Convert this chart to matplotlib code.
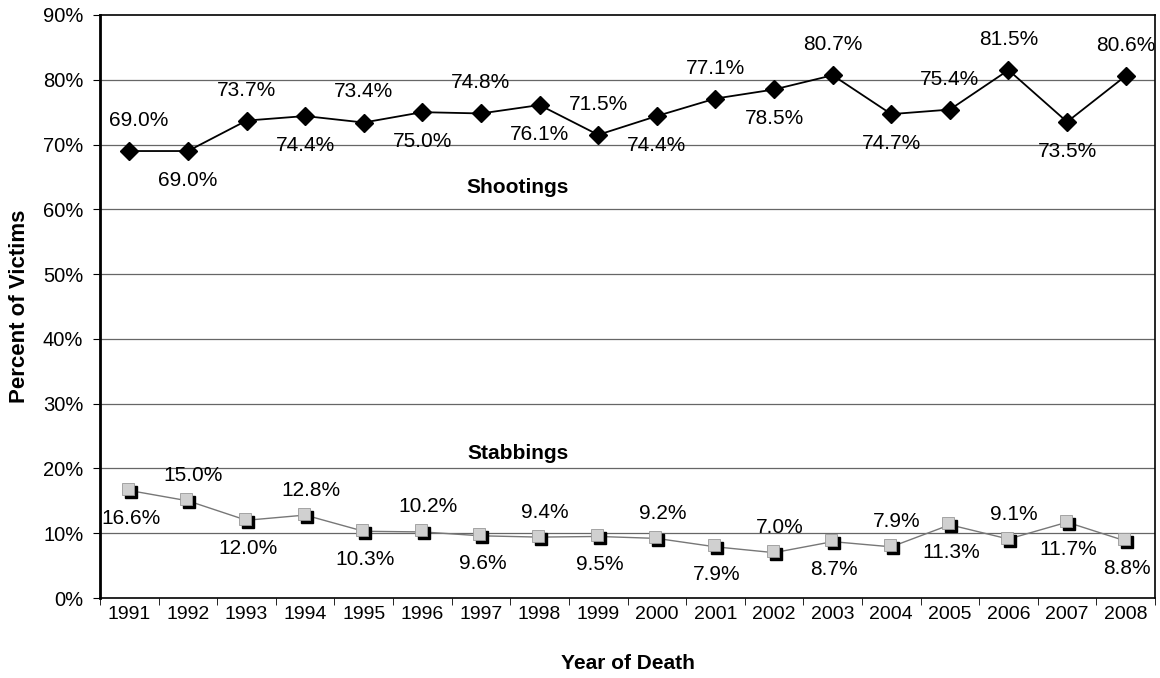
import matplotlib
matplotlib.use("Agg")
import matplotlib.pyplot as plt
import matplotlib.transforms as mtrans
import numpy as np

plt.rcParams['font.family'] = ['Liberation Sans', 'DejaVu Sans']

years = ['1991', '1992', '1993', '1994', '1995', '1996', '1997', '1998', '1999',
         '2000', '2001', '2002', '2003', '2004', '2005', '2006', '2007', '2008']
shootings = [69.0, 69.0, 73.7, 74.4, 73.4, 75.0, 74.8, 76.1, 71.5,
             74.4, 77.1, 78.5, 80.7, 74.7, 75.4, 81.5, 73.5, 80.6]
stabbings = [16.6, 15.0, 12.0, 12.8, 10.3, 10.2, 9.6, 9.4, 9.5,
             9.2, 7.9, 7.0, 8.7, 7.9, 11.3, 9.1, 11.7, 8.8]
# label placement: 1 = above the point, -1 = below
shoot_pos = [1, -1, 1, -1, 1, -1, 1, -1, 1, -1, 1, -1, 1, -1, 1, 1, -1, 1]
stab_pos = [-1, 1, -1, 1, -1, 1, -1, 1, -1, 1, -1, 1, -1, 1, -1, 1, -1, -1]

fig = plt.figure(figsize=(11.6, 6.78), dpi=100)
ax = fig.add_axes([100 / 1160, 80 / 678, 1055 / 1160, 583 / 678])

x = np.arange(len(years))

for v in range(10, 90, 10):
    ax.axhline(v, color='#666666', lw=0.9, zorder=0)

ax.plot(x, shootings, color='black', lw=1.3, marker='D', ms=9.5,
        mfc='black', mec='black', zorder=3)

# stabbings: grey line, square markers with a dark shadow behind a light face
ax.plot(x, stabbings, color='#777777', lw=1.0, zorder=2)
shadow = mtrans.offset_copy(ax.transData, fig=fig, x=1.5, y=-1.5, units='dots')
face = mtrans.offset_copy(ax.transData, fig=fig, x=-1.5, y=1.5, units='dots')
ax.plot(x, stabbings, ls='none', marker='s', ms=8.5, mfc='black', mec='black',
        transform=shadow, zorder=3)
ax.plot(x, stabbings, ls='none', marker='s', ms=8, mfc='#d0d0d0', mec='#999999',
        mew=0.6, transform=face, zorder=4)

for i in range(len(x)):
    dx = 7 if i == 0 else 0
    dy = 22 if shoot_pos[i] > 0 else -21
    ax.annotate(f'{shootings[i]:.1f}%', (x[i], shootings[i]),
                xytext=(dx, dy), textcoords='offset points',
                ha='center', va='center', fontsize=15)
    sdx = 4 if stab_pos[i] > 0 else 1
    sdy = 18 if stab_pos[i] > 0 else -20
    ax.annotate(f'{stabbings[i]:.1f}%', (x[i], stabbings[i]),
                xytext=(sdx, sdy), textcoords='offset points',
                ha='center', va='center', fontsize=15)

ax.text(6.63, 63.4, 'Shootings', ha='center', va='center', fontsize=15, fontweight='bold')
ax.text(6.63, 22.3, 'Stabbings', ha='center', va='center', fontsize=15, fontweight='bold')

ax.set_xlim(-0.5, len(years) - 0.5)
ax.set_ylim(0, 90)
ax.set_yticks(range(0, 91, 10))
ax.set_yticklabels([f'{v}%' for v in range(0, 91, 10)], fontsize=14.5)
ax.set_xticks(x)
ax.set_xticklabels(years, fontsize=14)
ax.tick_params(axis='x', length=0, pad=6)
ax.set_xticks(np.arange(-0.5, len(years), 1), minor=True)
ax.tick_params(axis='x', which='minor', length=5, direction='out')
ax.tick_params(axis='y', length=5, direction='out', pad=7)

for s in ax.spines.values():
    s.set_color('black')
    s.set_linewidth(1.2)
ax.spines['left'].set_linewidth(2)

ax.set_xlabel('Year of Death', fontsize=15, fontweight='bold', labelpad=22)
ax.set_ylabel('Percent of Victims', fontsize=16, fontweight='bold', labelpad=9)

fig.savefig('out.png', dpi=100)
